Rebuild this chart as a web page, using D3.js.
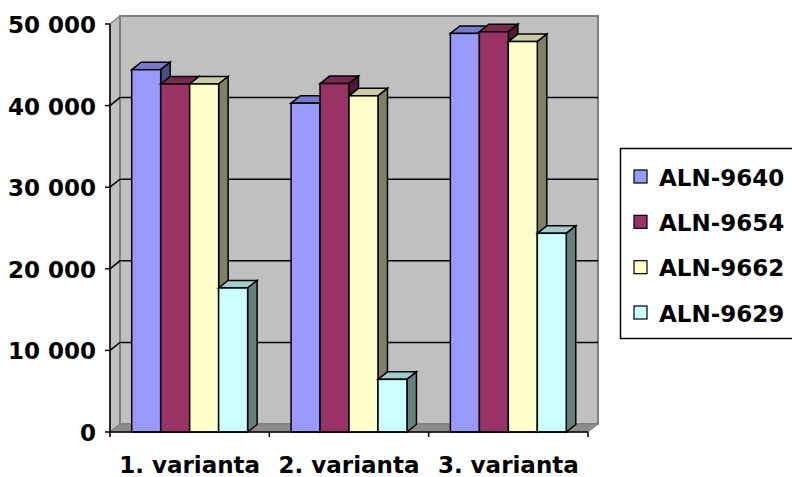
<!DOCTYPE html>
<html>
<head>
<meta charset="utf-8">
<script src="https://cdn.jsdelivr.net/npm/d3@7"></script>
<style>
  html, body { margin: 0; padding: 0; background: #fff; }
  svg { display: block; }
  text { font-family: "DejaVu Sans", sans-serif; font-weight: bold; fill: #000; }
</style>
</head>
<body>
<svg id="chart" width="792" height="477"></svg>
<script>
// Categories and series
const categories = ["1. varianta", "2. varianta", "3. varianta"];
const series = ["ALN-9640", "ALN-9654", "ALN-9662", "ALN-9629"];
const colors = ["#9999FF", "#993366", "#FFFFCC", "#CCFFFF"];

// Values per series, one entry per category
const aln9640 = [44400, 40300, 48850];
const aln9654 = [42650, 42700, 49050];
const aln9662 = [42650, 41200, 47850];
const aln9629 = [17650, 6450, 24350];
const values = [aln9640, aln9654, aln9662, aln9629];

const yTicks = [0, 10000, 20000, 30000, 40000, 50000];

(function () {
  const svg = d3.select("#chart");

  // Front plane of the 3-D plot area
  const plotLeft = 110, plotRight = 588, plotTop = 24, plotBottom = 432;
  // Depth offset of the back wall
  const DX = 10, DY = 8;
  // Depth offset of the column boxes
  const BDX = 9.5, BDY = 7.5;

  const y = d3.scaleLinear().domain([0, 50000]).range([plotBottom, plotTop]);
  const x0 = d3.scaleBand().domain(categories).range([plotLeft, plotRight]);
  const x1 = d3.scaleBand().domain(series).range([0, x0.bandwidth()])
    .paddingInner(0).paddingOuter(0.75);

  const fmt = v => d3.format(",")(v).replace(/,/g, " ");

  function shade(c, k) {
    const r = d3.rgb(c);
    return d3.rgb(r.r * k, r.g * k, r.b * k).formatHex();
  }

  const walls = svg.append("g");
  // side wall
  walls.append("path")
    .attr("d", `M${plotLeft},${y(0)} L${plotLeft},${y(50000)} L${plotLeft + DX},${y(50000) - DY} L${plotLeft + DX},${y(0) - DY} Z`)
    .attr("fill", "#c0c0c0").attr("stroke", "#808080").attr("stroke-width", 1.5);
  // back wall
  walls.append("rect")
    .attr("x", plotLeft + DX).attr("y", y(50000) - DY)
    .attr("width", plotRight - plotLeft).attr("height", y(0) - y(50000))
    .attr("fill", "#c0c0c0").attr("stroke", "#808080").attr("stroke-width", 2);
  // floor
  walls.append("path")
    .attr("d", `M${plotLeft},${y(0)} L${plotLeft + DX},${y(0) - DY} L${plotRight + DX},${y(0) - DY} L${plotRight},${y(0)} Z`)
    .attr("fill", "#8c8c8c").attr("stroke", "#808080").attr("stroke-width", 1);

  // gridlines on back and side walls
  const grid = svg.append("g").attr("stroke", "#000").attr("stroke-width", 1.5).attr("fill", "none");
  yTicks.filter(v => v > 0 && v < 50000).forEach(v => {
    grid.append("path")
      .attr("d", `M${plotLeft},${y(v)} L${plotLeft + DX},${y(v) - DY} L${plotRight + DX},${y(v) - DY}`);
  });

  // columns: drawn left to right so each box hides its neighbour's side face
  const bars = svg.append("g").attr("stroke", "#000").attr("stroke-width", 1.5);
  categories.forEach((cat, ci) => {
    series.forEach((s, si) => {
      const v = values[si][ci];
      const bx = x0(cat) + x1(s);
      const bw = x1.bandwidth();
      const by = y(v);
      const b0 = y(0);
      const c = colors[si];
      // top face
      bars.append("path")
        .attr("d", `M${bx},${by} L${bx + BDX},${by - BDY} L${bx + bw + BDX},${by - BDY} L${bx + bw},${by} Z`)
        .attr("fill", shade(c, 0.8));
      // side face
      bars.append("path")
        .attr("d", `M${bx + bw},${by} L${bx + bw + BDX},${by - BDY} L${bx + bw + BDX},${b0 - BDY} L${bx + bw},${b0} Z`)
        .attr("fill", shade(c, 0.5));
      // front face
      bars.append("rect")
        .attr("x", bx).attr("y", by).attr("width", bw).attr("height", b0 - by)
        .attr("fill", c);
    });
  });

  // value axis
  const yAxis = svg.append("g").attr("stroke", "#000").attr("stroke-width", 1.5);
  yAxis.append("line").attr("x1", plotLeft).attr("x2", plotLeft).attr("y1", y(50000)).attr("y2", y(0));
  yTicks.forEach(v => {
    yAxis.append("line").attr("x1", plotLeft - 5).attr("x2", plotLeft).attr("y1", y(v)).attr("y2", y(v));
  });
  svg.append("g").selectAll("text").data(yTicks).join("text")
    .attr("x", 96).attr("y", d => y(d) + 9)
    .attr("text-anchor", "end").attr("font-size", 23)
    .text(d => fmt(d));

  // category axis
  const xAxis = svg.append("g").attr("stroke", "#000").attr("stroke-width", 1.5);
  xAxis.append("line").attr("x1", plotLeft).attr("x2", plotRight).attr("y1", y(0)).attr("y2", y(0));
  [plotLeft].concat(categories.map(c => x0(c) + x0.bandwidth())).forEach(px => {
    xAxis.append("line").attr("x1", px).attr("x2", px).attr("y1", y(0)).attr("y2", y(0) + 5);
  });
  svg.append("g").selectAll("text").data(categories).join("text")
    .attr("x", d => x0(d) + x0.bandwidth() / 2).attr("y", 473)
    .attr("text-anchor", "middle").attr("font-size", 23)
    .text(d => d);

  // legend
  const legend = svg.append("g");
  legend.append("rect")
    .attr("x", 620.5).attr("y", 148.5).attr("width", 200).attr("height", 190)
    .attr("fill", "#fff").attr("stroke", "#000").attr("stroke-width", 1.5);
  const ly = d3.scalePoint().domain(series).range([177, 313]);
  series.forEach((s, i) => {
    legend.append("rect")
      .attr("x", 634).attr("y", ly(s) - 7).attr("width", 13).attr("height", 13)
      .attr("fill", colors[i]).attr("stroke", "#000").attr("stroke-width", 1.2);
    legend.append("text")
      .attr("x", 659).attr("y", ly(s) + 8.5)
      .attr("font-size", 23)
      .text(s);
  });
})();
</script>
</body>
</html>
